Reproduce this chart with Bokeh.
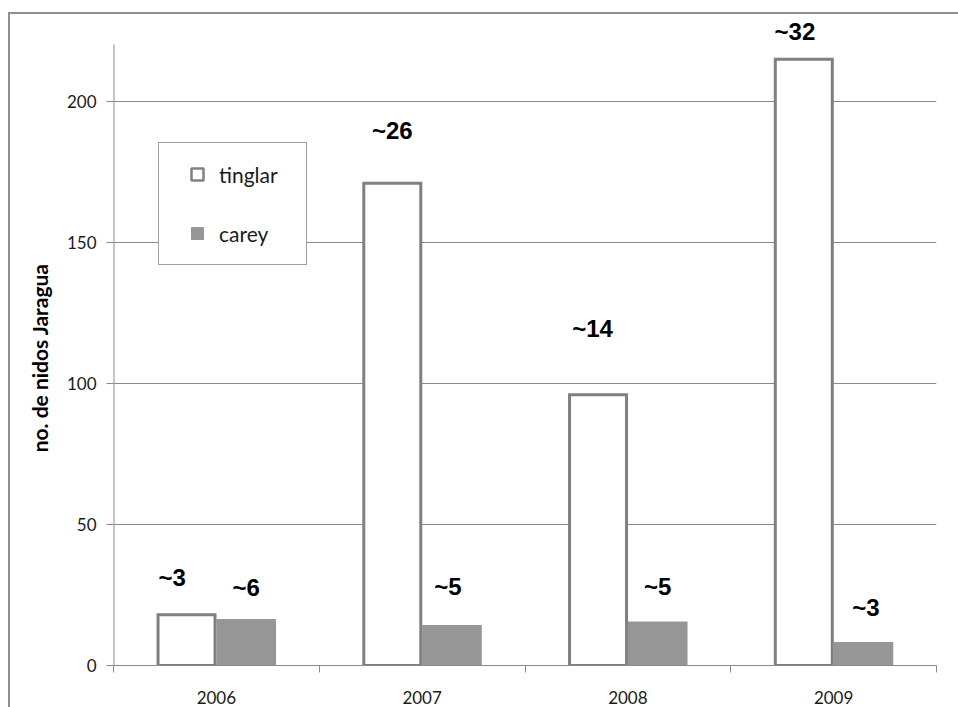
from bokeh.plotting import figure
from bokeh.models import (Range1d, FixedTicker, ColumnDataSource, LabelSet,
                          Legend, LegendItem)
from bokeh.core.properties import value
from bokeh.embed import file_html
from bokeh.resources import INLINE

# nests counted per season on the Jaragua beaches
years = ["2006", "2007", "2008", "2009"]
tinglar = [18, 171, 96, 215]
carey = [16.5, 14.4, 15.6, 8.3]

# hand-written notes above the bars
tinglar_notes = ["~3", "~26", "~14", "~32"]
carey_notes = ["~6", "~5", "~5", "~3"]
# where each note sits relative to the top centre of its bar
# (lift in axis units, sideways nudge in slot widths)
tinglar_note_lift = [13.2, 18.7, 23.5, 9.8]
tinglar_note_nudge = [-0.07, 0.0, -0.027, -0.043]
carey_note_lift = [11.2, 13.6, 12.4, 12.3]
carey_note_nudge = [0.0, -0.02, 0.0, 0.012]

y_ticks = [0, 50, 100, 150, 200]
axis_top = 220.2

GRID = "#8a8a8a"
OUTLINE = "#808080"
FILL = "#969696"
TEXT = "#1a1a1a"

slot = 0.29
centers = [i + 0.5 for i in range(len(years))]
tx = [c - slot / 2 for c in centers]
cx = [c + slot / 2 for c in centers]

# the frame runs a little above the axis so the top note has room
p = figure(frame_width=823, frame_height=651,
           x_range=Range1d(0, len(years)), y_range=Range1d(0, 230.84),
           output_backend="svg", toolbar_location=None,
           min_border_left=103, min_border_right=22,
           min_border_top=0, min_border_bottom=42,
           margin=(12, 0, 0, 8),
           styles={"border-top": "2px solid #8f8f8f",
                   "border-left": "2px solid #8f8f8f"})
p.outline_line_color = None
p.background_fill_color = "white"
p.border_fill_color = "white"

# x axis: years centred in their slots, tick marks on the slot boundaries
xa = p.xaxis[0]
xa.ticker = FixedTicker(ticks=centers, minor_ticks=list(range(len(years) + 1)))
xa.major_label_overrides = {c: y for c, y in zip(centers, years)}
xa.major_tick_line_color = None
xa.major_tick_out = 0
xa.major_tick_in = 0
xa.minor_tick_out = 7
xa.minor_tick_in = 0
xa.minor_tick_line_color = GRID
xa.axis_line_color = GRID
xa.major_label_text_font = "Lato"
xa.major_label_text_font_size = "17px"
xa.major_label_text_color = TEXT
xa.major_label_standoff = 18
p.xgrid.grid_line_color = None

ya = p.yaxis[0]
ya.ticker = FixedTicker(ticks=y_ticks, minor_ticks=[])
ya.major_tick_out = 7
ya.major_tick_in = 0
ya.major_tick_line_color = GRID
ya.minor_tick_line_color = None
ya.axis_line_color = None
ya.major_label_text_font = "Lato"
ya.major_label_text_font_size = "17px"
ya.major_label_text_color = TEXT
ya.major_label_standoff = 10
# trailing no-break spaces centre the title on the scale rather than the frame
ya.axis_label = "no. de nidos Jaragua" + "\u00a0" * 7
ya.axis_label_text_font = "Lato"
ya.axis_label_text_font_style = "bold"
ya.axis_label_text_font_size = "21px"
ya.axis_label_text_color = "black"
ya.axis_label_standoff = 12
p.ygrid.ticker = FixedTicker(ticks=y_ticks, minor_ticks=[])
p.ygrid.grid_line_color = GRID

# value axis line, stopping at the top of the scale
p.segment(x0=[0], y0=[0], x1=[0], y1=[axis_top], line_color=GRID,
          line_width=2)

p.vbar(x=tx, top=tinglar, bottom=0, width=slot - 0.013,
       fill_color="white", line_color=OUTLINE, line_width=3,
       line_join="miter")
p.vbar(x=cx, top=carey, bottom=0, width=slot,
       fill_color=FILL, line_color=None)

notes = ColumnDataSource(dict(
    x=[x + n for x, n in zip(tx, tinglar_note_nudge)]
      + [x + n for x, n in zip(cx, carey_note_nudge)],
    y=[v + d for v, d in zip(tinglar, tinglar_note_lift)]
      + [v + d for v, d in zip(carey, carey_note_lift)],
    text=tinglar_notes + carey_notes,
))
p.add_layout(LabelSet(x="x", y="y", text="text", source=notes,
                      text_font=value("Liberation Sans"),
                      text_font_style=value("bold"),
                      text_font_size=value("24px"), text_color="black",
                      text_align="center", text_baseline="middle"))

# legend swatches (single points parked outside the visible ranges)
sw_t = p.scatter(x=[-5], y=[-50], marker="square", size=13,
                 fill_color="white", line_color=OUTLINE, line_width=2.5)
sw_c = p.scatter(x=[-5], y=[-50], marker="square", size=13,
                 fill_color=FILL, line_color=FILL)
legend = Legend(items=[LegendItem(label="tinglar", renderers=[sw_t]),
                       LegendItem(label="carey", renderers=[sw_c])],
                location=(45, 400), margin=0, padding=16, spacing=29,
                glyph_width=44, glyph_height=30, label_height=30,
                label_width=71, label_standoff=0,
                border_line_color="#404040", border_line_width=1,
                background_fill_color="white", background_fill_alpha=1,
                label_text_font="Lato", label_text_font_size="21px",
                label_text_color=TEXT)
p.add_layout(legend)

open("out.html", "w").write(file_html(p, INLINE))
